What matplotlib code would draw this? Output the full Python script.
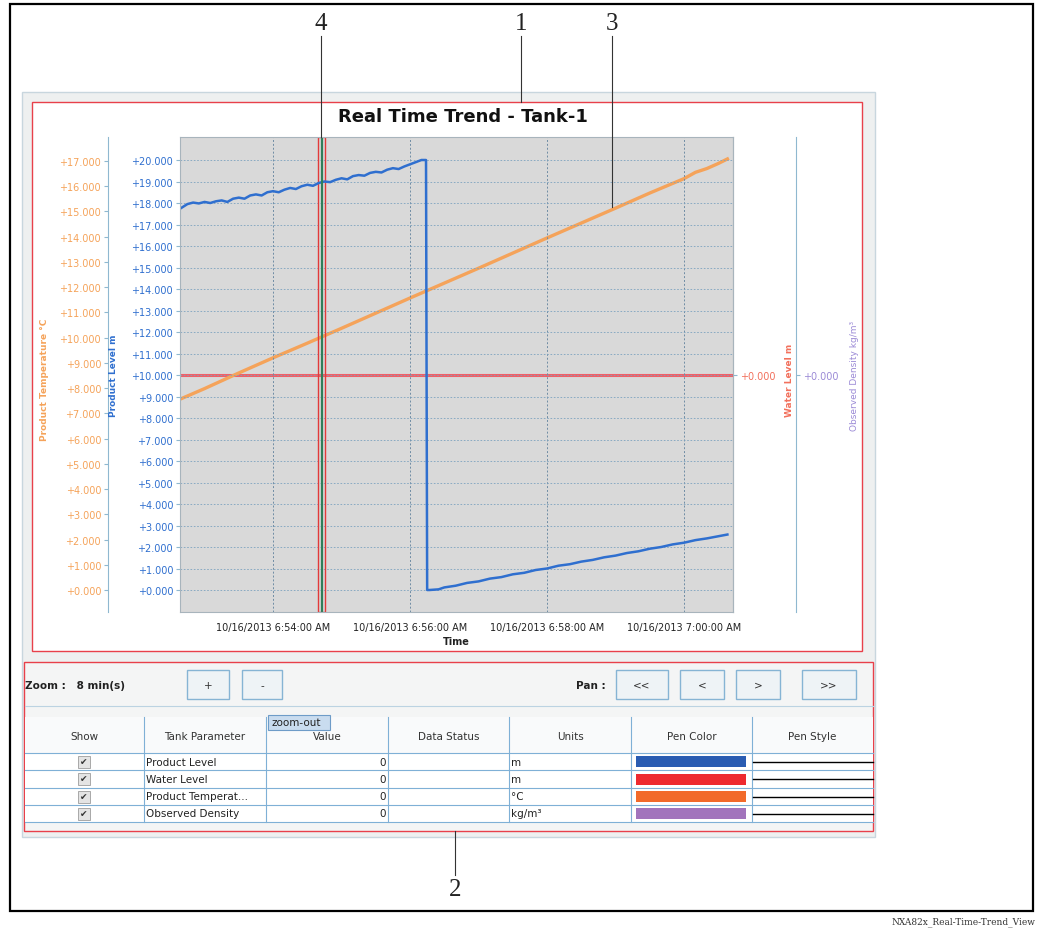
import numpy as np, pandas as pd
import matplotlib; matplotlib.use("Agg")
import matplotlib.pyplot as plt
import matplotlib.dates as mdates
from matplotlib.patches import Rectangle
from matplotlib.ticker import FuncFormatter, FixedLocator

W, H = 1037, 929
T0 = pd.Timestamp("2013-10-16 06:54:00")

# seconds after 6:54:00
level_sec = [-81, -75, -70, -65, -60, -55, -50, -45, -40, -35, -30, -25, -20, -15, -10, -5,
             0, 5, 10, 15, 20, 25, 30, 35, 40, 45, 50, 55, 60, 65, 70, 75, 80, 85, 90, 95,
             100, 105, 110, 115, 120, 125, 130, 134, 135,
             137, 145, 150, 160, 170, 180, 190, 200, 210, 220, 230, 240, 250, 260, 270, 280,
             290, 300, 310, 320, 330, 340, 350, 360, 370, 380, 390, 398]
level_m = [17.75, 17.95, 18.02, 17.98, 18.05, 18.0, 18.08, 18.12, 18.05, 18.2, 18.25, 18.2,
           18.35, 18.4, 18.35, 18.5, 18.55, 18.5, 18.62, 18.7, 18.65, 18.78, 18.85, 18.8,
           18.93, 19.0, 18.97, 19.08, 19.15, 19.1, 19.25, 19.3, 19.27, 19.4, 19.45, 19.42,
           19.55, 19.62, 19.58, 19.7, 19.8, 19.9, 20.0, 20.0, 0.0,
           0.0, 0.03, 0.12, 0.2, 0.33, 0.4, 0.53, 0.6, 0.73, 0.8, 0.93, 1.0, 1.13, 1.2, 1.32,
           1.4, 1.52, 1.6, 1.72, 1.8, 1.92, 2.0, 2.12, 2.2, 2.32, 2.4, 2.5, 2.58]
temp_sec = [-81, -60, -30, 0, 30, 60, 90, 120, 150, 180, 210, 240, 270, 300, 330, 360,
            370, 380, 390, 398]
temp_c = [7.57, 7.98, 8.6, 9.2, 9.78, 10.37, 10.97, 11.57, 12.16, 12.75, 13.35, 13.95,
          14.54, 15.13, 15.73, 16.3, 16.55, 16.7, 16.9, 17.08]
water_sec = [-82, 403]
water_m = [0.0, 0.0]
cursor_sec = [39.4, 42.5, 45.5]
xtick_sec = [0, 120, 240, 360]
level_ticks = list(range(0, 21))
temp_ticks = list(range(0, 18))

params = ["Product Level", "Water Level", "Product Temperat...", "Observed Density"]
values = [0, 0, 0, 0]
units = ["m", "m", "°C", "kg/m³"]
pen_colors = ["#2a5cb2", "#ee2a2f", "#f26a2a", "#a274bc"]
headers = ["Show", "Tank Parameter", "Value", "Data Status", "Units", "Pen Color", "Pen Style"]

BLUE, ORANGE, RED, PURPLE = "#2f6fcf", "#f5a35a", "#ef6068", "#9b8ad6"
SPINE = "#8fb8d0"
GRID = "#7ea3bf"
plus3 = FuncFormatter(lambda v, _: f"+{v:.3f}")


def to_t(s):
    return (T0 + pd.to_timedelta(np.atleast_1d(s), unit="s")).to_numpy()


def rect(x0, y0, x1, y1):
    return [x0 / W, 1 - y1 / H, (x1 - x0) / W, (y1 - y0) / H]


def tfmt(v, _):
    d = mdates.num2date(v)
    return f"{d.month}/{d.day}/{d.year} {d.hour % 12 or 12}:{d:%M:%S} {'AM' if d.hour < 12 else 'PM'}"


fig = plt.figure(figsize=(W / 100, H / 100), dpi=100)
bg = fig.add_axes([0, 0, 1, 1], zorder=0)
bg.set_xlim(0, W); bg.set_ylim(H, 0); bg.axis("off")
fg = fig.add_axes([0, 0, 1, 1], zorder=10)
fg.set_xlim(0, W); fg.set_ylim(H, 0); fg.axis("off")

# frames
bg.add_patch(Rectangle((10, 5), 1023, 907, fill=False, ec="black", lw=1.6))
bg.add_patch(Rectangle((22, 93), 853, 745, fc="#eef0f0", ec="#c8d6de", lw=1))
bg.add_patch(Rectangle((32, 103), 830, 549, fc="white", ec="#e8404a", lw=1))
bg.add_patch(Rectangle((24, 663), 849, 169, fc="#f4f5f5", ec="#e8404a", lw=1, zorder=1))
bg.text(463, 117, "Real Time Trend - Tank-1", fontsize=13, fontweight="bold",
        ha="center", va="center", color="#111")
bg.text(1035, 922, "NXA82x_Real-Time-Trend_View", fontsize=6.5, family="DejaVu Serif",
        ha="right", va="center", color="#333")

# trend axes
ax = fig.add_axes(rect(180, 138, 733, 613))
ax_r = ax.twinx(); ax_t = ax.twinx(); ax_p = ax.twinx()
ax_r.set_zorder(1); ax_t.set_zorder(2); ax_p.set_zorder(2.5); ax.set_zorder(3)
ax.patch.set_visible(False)
ax_r.patch.set_visible(True); ax_r.set_facecolor("#d9d9d9")

ax_r.plot(to_t(water_sec), water_m, color=RED, lw=2.2)
ax_t.plot(to_t(temp_sec), temp_c, color=ORANGE, lw=2.4)
ax.plot(to_t(level_sec), level_m, color=BLUE, lw=1.8)

# product level (host)
ax.set_ylim(-1.023, 21.07)
ax.yaxis.set_major_locator(FixedLocator(level_ticks))
ax.yaxis.set_major_formatter(plus3)
ax.tick_params(axis="y", color=SPINE, labelcolor=BLUE, labelsize=7, length=3, pad=2)
ax.set_xlim(to_t(-81.5)[0], to_t(402.9)[0])
ax.set_xticks(to_t(xtick_sec))
ax.xaxis.set_major_formatter(FuncFormatter(tfmt))
ax.tick_params(axis="x", length=0, pad=7, labelsize=7, labelcolor="#222")
ax.set_xlabel("Time", fontsize=7, fontweight="bold", color="#222", labelpad=3)
ax.set_ylabel("Product Level m", fontsize=6.5, fontweight="bold", color=BLUE)
ax.yaxis.set_label_coords(-0.112, 0.5)
ax.set_axisbelow(True)
ax.grid(axis="y", color=GRID, ls=(0, (2, 2)), lw=0.6)
ax.grid(axis="x", color="#6f8ca4", ls=(0, (2, 2)), lw=0.7)
for s in ax.spines.values():
    s.set_color("#a8b4bc"); s.set_linewidth(0.8)

# cursor
ax.axvspan(to_t(cursor_sec[0])[0], to_t(cursor_sec[2])[0], fill=False, ec="#e23a3a", lw=1)
ax.axvline(to_t(cursor_sec[1])[0], color="#2f7f5a", lw=1.6)

# product temperature (left, outer)
ax_t.set_ylim(-0.872, 17.95)
ax_t.yaxis.set_major_locator(FixedLocator(temp_ticks))
ax_t.yaxis.set_major_formatter(plus3)
ax_t.yaxis.set_ticks_position("left"); ax_t.yaxis.set_label_position("left")
ax_t.spines["left"].set_position(("axes", -0.1302))
for s in ["right", "top", "bottom"]:
    ax_t.spines[s].set_visible(False)
ax_t.spines["left"].set_visible(True); ax_t.spines["left"].set_color(SPINE)
ax_t.tick_params(axis="y", color=SPINE, labelcolor=ORANGE, labelsize=7, length=3, pad=2)
ax_t.set_ylabel("Product Temperature °C", fontsize=6.5, fontweight="bold", color=ORANGE)
ax_t.yaxis.set_label_coords(-0.236, 0.49)

# water level (right)
ax_r.set_ylim(-0.4989, 0.5011)
ax_r.yaxis.set_major_locator(FixedLocator([0]))
ax_r.yaxis.set_major_formatter(plus3)
for s in ["left", "top", "bottom"]:
    ax_r.spines[s].set_visible(False)
ax_r.spines["right"].set_color("#a8b4bc")
ax_r.tick_params(axis="y", color=SPINE, labelcolor="#f2705c", labelsize=7, length=3, pad=2)
ax_r.set_ylabel("Water Level m", fontsize=6.5, fontweight="bold", color="#f2705c")
ax_r.yaxis.set_label_coords(1.094, 0.49)

# observed density (right, outer)
ax_p.set_ylim(-0.4989, 0.5011)
ax_p.yaxis.set_major_locator(FixedLocator([0]))
ax_p.yaxis.set_major_formatter(plus3)
ax_p.spines["right"].set_position(("axes", 1.114))
for s in ["left", "top", "bottom"]:
    ax_p.spines[s].set_visible(False)
ax_p.spines["right"].set_color(SPINE)
ax_p.tick_params(axis="y", color=SPINE, labelcolor=PURPLE, labelsize=7, length=3, pad=2)
ax_p.set_ylabel("Observed Density kg/m³", fontsize=6.5, color=PURPLE)
ax_p.yaxis.set_label_coords(1.2116, 0.5)

# controls
bg.text(25, 686, "Zoom :   8 min(s)", fontsize=7.5, fontweight="bold", va="center",
        color="#222", zorder=2)
bg.text(606, 686, "Pan :", fontsize=7.5, fontweight="bold", va="center", ha="right",
        color="#222", zorder=2)
for x0, x1, lab in [(187, 229, "+"), (242, 282, "-"), (616, 668, "<<"), (680, 724, "<"),
                    (736, 780, ">"), (802, 856, ">>")]:
    bg.add_patch(Rectangle((x0, 671), x1 - x0, 29, fc="#eef3f6", ec="#86b4d4", lw=1, zorder=2))
    bg.text((x0 + x1) / 2, 686, lab, fontsize=7.5, ha="center", va="center", color="#333", zorder=3)
bg.plot([25, 873], [707, 707], color="#bcd3e2", lw=0.8, zorder=2)

# table
cols = [25, 144, 266, 388, 509, 631, 752, 873]
rows = [754, 771, 789, 806, 823]
bg.add_patch(Rectangle((25, 718), 848, 36, fc="#f9fafb", ec="none", zorder=2))
bg.add_patch(Rectangle((25, 754), 848, 69, fc="white", ec="none", zorder=2))
for x in cols[1:-1]:
    bg.plot([x, x], [718, 823], color="#7fb0d6", lw=0.8, zorder=3)
for y in rows:
    bg.plot([25, 873], [y, y], color="#7fb0d6", lw=0.8, zorder=3)
for i, h in enumerate(headers):
    bg.text((cols[i] + cols[i + 1]) / 2, 737, h, fontsize=7.5, ha="center", va="center",
            color="#333", zorder=3)
for i in range(len(params)):
    yc = (rows[i] + rows[i + 1]) / 2
    bg.add_patch(Rectangle((78, yc - 6), 12, 12, fc="#e4e4e4", ec="#a8a8a8", lw=0.7, zorder=3))
    bg.text(84, yc, "✔", fontsize=6.5, ha="center", va="center", color="#333", zorder=4)
    bg.text(146, yc, params[i], fontsize=7.5, va="center", color="#222", zorder=3)
    bg.text(386, yc, str(values[i]), fontsize=7.5, va="center", ha="right", color="#222", zorder=3)
    bg.text(511, yc, units[i], fontsize=7.5, va="center", color="#222", zorder=3)
    bg.add_patch(Rectangle((636, yc - 5.5), 110, 11, fc=pen_colors[i], ec="none", zorder=3))
    bg.plot([753, 873], [yc, yc], color="black", lw=1, zorder=3)
bg.add_patch(Rectangle((268, 716), 62, 15, fc="#c9dcef", ec="#6e9cc8", lw=0.8, zorder=5))
bg.text(271, 723.5, "zoom-out", fontsize=7.5, va="center", color="#222", zorder=6)

# callouts
for x, y0, y1, lab, ly in [(321, 37, 138, "4", 24), (521, 37, 103, "1", 24),
                           (612, 37, 208, "3", 24), (455, 832, 876, "2", 890)]:
    fg.plot([x, x], [y0, y1], color="#333", lw=0.8)
    fg.text(x, ly, lab, fontsize=18, family="Liberation Serif", ha="center", va="center",
            color="#222")

fig.savefig("out.png", dpi=100)
